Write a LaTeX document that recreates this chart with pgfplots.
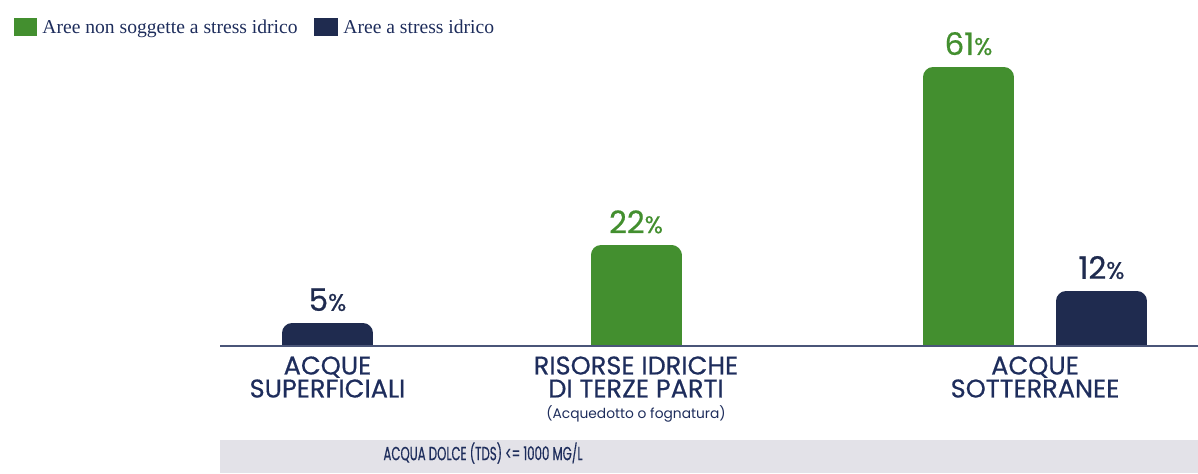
\documentclass[border=0pt]{standalone}
\usepackage{fontspec}
\setmainfont{Liberation Serif}
\newfontfamily\pop{Poppins}
\newfontfamily\popb{Poppins}[FakeBold=0.5]
\newfontfamily\popc{Poppins}[FakeStretch=0.62,FakeBold=0.4]
\usepackage{pgfplots}
\pgfplotsset{compat=1.18}
\definecolor{vgreen}{HTML}{438F2F}
\definecolor{vnavy}{HTML}{1F2B4F}
\definecolor{vtext}{HTML}{1E2D5C}
\definecolor{vband}{HTML}{E3E2E8}
\definecolor{vline}{HTML}{4A5578}

\begin{document}
\begin{tikzpicture}
% bars: a thick round-joined outline gives the rounded tops, the bottom is clipped at ymin
\begin{axis}[
  scale only axis, width=489pt, height=171.375pt,
  xmin=220, xmax=1198, ymin=0, ymax=75,
  hide axis, ybar, bar width=71, bar shift=0pt,
  point meta=y,
  /pgf/number format/assume math mode=true,
  nodes near coords={\pgfmathprintnumber{\pgfplotspointmeta}{\fontsize{12}{12}\selectfont\%}},
  every node near coord/.append style={font=\popb\fontsize{15.5}{16}\selectfont, anchor=south, inner sep=0pt, yshift=6pt},
  every axis plot/.append style={line width=10pt, line join=round, yshift=-5pt}]
\addplot[fill=vgreen, draw=vgreen, every node near coord/.append style={text=vgreen}]
  coordinates {(636,22) (968.5,61)};
\addplot[fill=vnavy, draw=vnavy, every node near coord/.append style={text=vnavy}]
  coordinates {(327.5,5) (1101.5,12)};
\coordinate (O) at (axis cs:220,0);
\end{axis}

% everything else in pixels of the 1198x473 picture, y downward from the top
\begin{scope}[shift={(O)}, x=0.5pt, y=-0.5pt, shift={(-220,-346)}]
\fill[vband] (220,440) rectangle (1198,473);
\draw[vline, line width=1.2pt] (220,346) -- (1198,346);

% legend
\fill[vgreen] (14,18) rectangle (37,36);
\node[anchor=base west, inner sep=0pt, text=vtext, font=\fontsize{9.8}{10}\selectfont] at (42,33) {Aree non soggette a stress idrico};
\fill[vnavy] (314,18) rectangle (338,36);
\node[anchor=base west, inner sep=0pt, text=vtext, font=\fontsize{9.8}{10}\selectfont] at (343,33) {Aree a stress idrico};

% category labels
\node[anchor=north, align=center, text=vtext, inner sep=0pt, font=\popb\fontsize{12.8}{11.5}\selectfont] at (327.5,356) {ACQUE\\SUPERFICIALI};
\node[anchor=north, align=center, text=vtext, inner sep=0pt, font=\popb\fontsize{12.8}{11.5}\selectfont] at (636,356) {RISORSE IDRICHE\\DI TERZE PARTI};
\node[anchor=north, text=vtext, inner sep=0pt, font=\pop\fontsize{6.9}{8}\selectfont] at (636,405) {(Acquedotto o fognatura)};
\node[anchor=north, align=center, text=vtext, inner sep=0pt, font=\popb\fontsize{12.8}{11.5}\selectfont] at (1035,356) {ACQUE\\SOTTERRANEE};

% band text
\node[text=vtext, inner sep=0pt, font=\popc\fontsize{9.5}{10}\selectfont] at (483,453) {ACQUA DOLCE (TDS) <= 1000 MG/L};

\pgfresetboundingbox
\path (0,0) rectangle (1198,473);
\end{scope}
\end{tikzpicture}
\end{document}
